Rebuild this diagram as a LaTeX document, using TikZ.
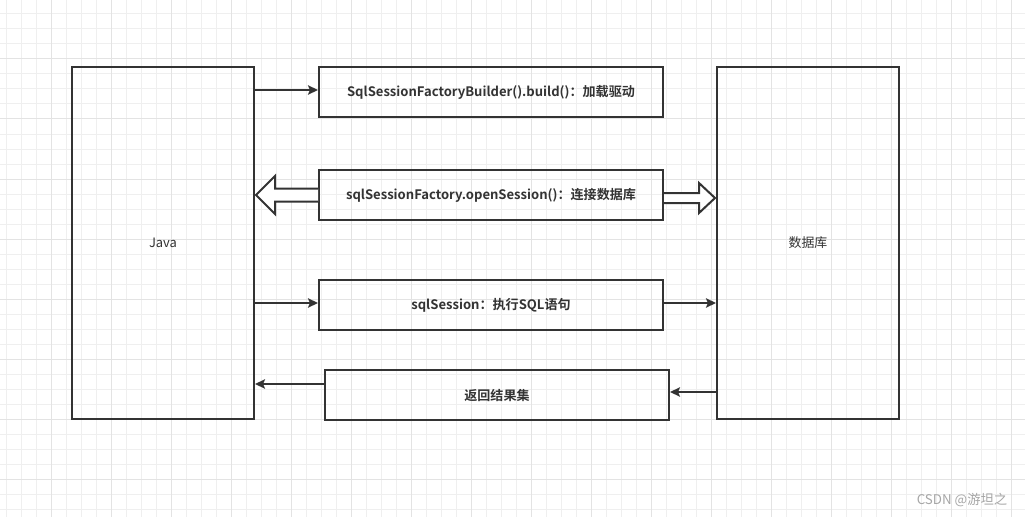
\documentclass[tikz,border=0pt]{standalone}
\usepackage{fontspec}
\setmainfont{Noto Sans CJK SC}[BoldFont={Noto Sans CJK SC Bold}]
\usetikzlibrary{calc,arrows.meta}
\definecolor{linec}{HTML}{333333}
\definecolor{gridc}{HTML}{EFEFEF}
\definecolor{gridd}{HTML}{E3E3E3}
\begin{document}
\begin{tikzpicture}[x=0.75pt,y=-0.75pt,line join=miter,font=\fontsize{9.7}{11}\selectfont,
	side/.style={draw=linec,line width=1.5pt,minimum width=136.5pt,minimum height=264pt,inner sep=0pt,text=linec},
	stepbox/.style={draw=linec,line width=1.5pt,minimum width=258pt,minimum height=37.5pt,inner sep=0pt,text=linec,font=\fontsize{9.8}{11}\selectfont\bfseries},
	arr/.style={draw=linec,line width=1.5pt,-{Stealth[length=7.5pt,width=7pt,inset=1.5pt]}},
	fat/.style={draw=linec,line width=1.5pt,fill=white}]
	% background grid
	\useasboundingbox (0,0) rectangle (1025,517);
	\fill[white] (0,0) rectangle (1025,517);
	\foreach \i in {0,...,68} \draw[gridc,line width=0.75pt] (6+15*\i,0)--(6+15*\i,517);
	\foreach \i in {0,...,34} \draw[gridc,line width=0.75pt] (0,14+15*\i)--(1025,14+15*\i);
	\foreach \i in {0,...,16} \draw[gridd,line width=0.75pt] (51+60*\i,0)--(51+60*\i,517);
	\foreach \i in {0,...,8} \draw[gridd,line width=0.75pt] (0,-1+60*\i)--(1025,-1+60*\i);
	% nodes
	\node[side] (java) at (163,243) {Java};
	\node[side] (db) at (808,243) {数据库};
	\node[stepbox] (q1) at (491,92) {SqlSessionFactoryBuilder().build()：加载驱动};
	\node[stepbox] (q2) at (491,195) {sqlSessionFactory.openSession()：连接数据库};
	\node[stepbox] (q3) at (491,305) {sqlSession：执行SQL语句};
	\node[stepbox] (q4) at (497,395) {返回结果集};
	% arrows
	\draw[arr] ($(java.east|-q1)+(0,-2)$) -- ($(q1.west)+(0,-2)$);
	\draw[arr] ($(java.east|-q3)+(0,-2)$) -- ($(q3.west)+(0,-2)$);
	\draw[arr] ($(q3.east)+(0,-2)$) -- ($(db.west|-q3)+(0,-2)$);
	\draw[arr] ($(db.west|-q4)+(0,-3)$) -- ($(q4.east)+(0,-3)$);
	\draw[arr] ($(q4.west)+(0,-11)$) -- ($(java.east|-q4)+(0,-11)$);
	\coordinate (lt) at ($(java.east|-q2)+(1,0)$);
	\coordinate (rt) at ($(db.west|-q2)+(-1,3)$);
	\draw[fat] ($(q2.west)+(0,-6.5)$) -- ($(lt)+(19,-6.5)$) -- ($(lt)+(19,-19)$) -- (lt)
		-- ($(lt)+(19,19)$) -- ($(lt)+(19,6.5)$) -- ($(q2.west)+(0,6.5)$);
	\draw[fat] ($(q2.east)+(0,-2)$) -- ($(rt)+(-16,-5)$) -- ($(rt)+(-16,-15)$) -- (rt)
		-- ($(rt)+(-16,15)$) -- ($(rt)+(-16,5)$) -- ($(q2.east)+(0,8)$);
	\node[text=black!35,font=\fontsize{10}{12}\selectfont,anchor=east] (mark) at (1012,500) {CSDN @游坦之};
\end{tikzpicture}
\end{document}
